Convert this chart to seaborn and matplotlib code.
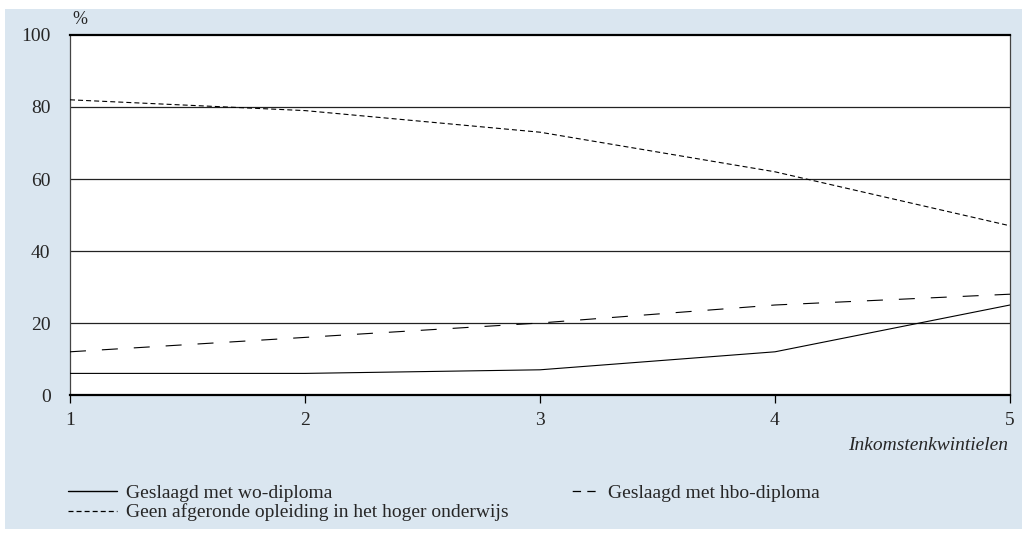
import matplotlib
matplotlib.use("Agg")
import matplotlib.pyplot as plt
import seaborn as sns
import pandas as pd
from matplotlib.lines import Line2D

quintiles = [1, 2, 3, 4, 5]
wo_diploma = [6, 6, 7, 12, 25]
hbo_diploma = [12, 16, 20, 25, 28]
geen_opleiding = [82, 79, 73, 62, 47]
y_ticks = [0, 20, 40, 60, 80, 100]

labels = ["Geslaagd met wo-diploma", "Geslaagd met hbo-diploma",
          "Geen afgeronde opleiding in het hoger onderwijs"]

df = pd.DataFrame({
    "kwintiel": quintiles * 3,
    "pct": wo_diploma + hbo_diploma + geen_opleiding,
    "reeks": [labels[0]] * 5 + [labels[1]] * 5 + [labels[2]] * 5,
})

sns.set_theme(style="white")
plt.rcParams["font.family"] = ["Liberation Serif", "DejaVu Serif"]
plt.rcParams["lines.scale_dashes"] = False

FS = 14
BG = "#dae6f0"
fig = plt.figure(figsize=(10.22, 5.36), dpi=100, facecolor="white")
fig.patches.append(plt.Rectangle((5 / 1022, 1 - 529 / 536), 1, 520 / 536,
                                 transform=fig.transFigure,
                                 facecolor=BG, edgecolor="none", zorder=-10))
ax = fig.add_axes([70 / 1022, 1 - 395 / 536, 940 / 1022, 360 / 536])
ax.set_zorder(2)
ax.set_facecolor("white")

dash_map = {labels[0]: "", labels[1]: (11.5, 11.5), labels[2]: (3.6, 2.2)}
sns.lineplot(data=df, x="kwintiel", y="pct", style="reeks", dashes=dash_map,
             color="black", linewidth=0.8, ax=ax, legend=False, zorder=3)

ax.set_xlim(1, 5)
ax.set_ylim(0, 100)
ax.set_xticks(quintiles)
ax.set_yticks(y_ticks)
ax.set_xticklabels([str(q) for q in quintiles])
ax.set_yticklabels([str(t) for t in y_ticks])
for t in y_ticks[1:-1]:
    ax.axhline(t, color="#222222", linewidth=0.9, zorder=1)

for side in ["top", "bottom"]:
    ax.spines[side].set_color("black")
    ax.spines[side].set_linewidth(1.6)
for side in ["left", "right"]:
    ax.spines[side].set_color("#444444")
    ax.spines[side].set_linewidth(0.9)

ax.tick_params(axis="x", direction="out", length=6, width=0.9, color="black",
               bottom=True, pad=6, labelsize=FS)
ax.tick_params(axis="y", length=0, pad=14, labelsize=FS)
ax.set_xlabel("")
ax.set_ylabel("")

fig.text(80 / 1022, 1 - 20 / 536, "%", fontsize=FS - 1, ha="center", va="center")
fig.text(1008 / 1022, 1 - 445 / 536, "Inkomstenkwintielen", fontsize=FS,
         style="italic", ha="right", va="center")

handles = [
    Line2D([], [], color="black", linewidth=1.0, linestyle="-"),
    Line2D([], [], color="black", linewidth=0.9, linestyle=(0, (3.6, 2.2))),
    Line2D([], [], color="black", linewidth=0.9, dash_capstyle="butt",
           linestyle=(0, (0.001, 16, 6, 4.5, 6, 40))),
]
order_labels = [labels[0], labels[2], labels[1]]
leg = fig.legend(handles, order_labels, ncol=2, loc="upper left",
                 bbox_to_anchor=(68 / 1022, 1 - 484 / 536), frameon=False,
                 fontsize=FS, handlelength=2.5, handletextpad=0.5,
                 columnspacing=2.1, labelspacing=0.1, borderaxespad=0,
                 borderpad=0)

fig.savefig("out.png", dpi=100, facecolor="white")
